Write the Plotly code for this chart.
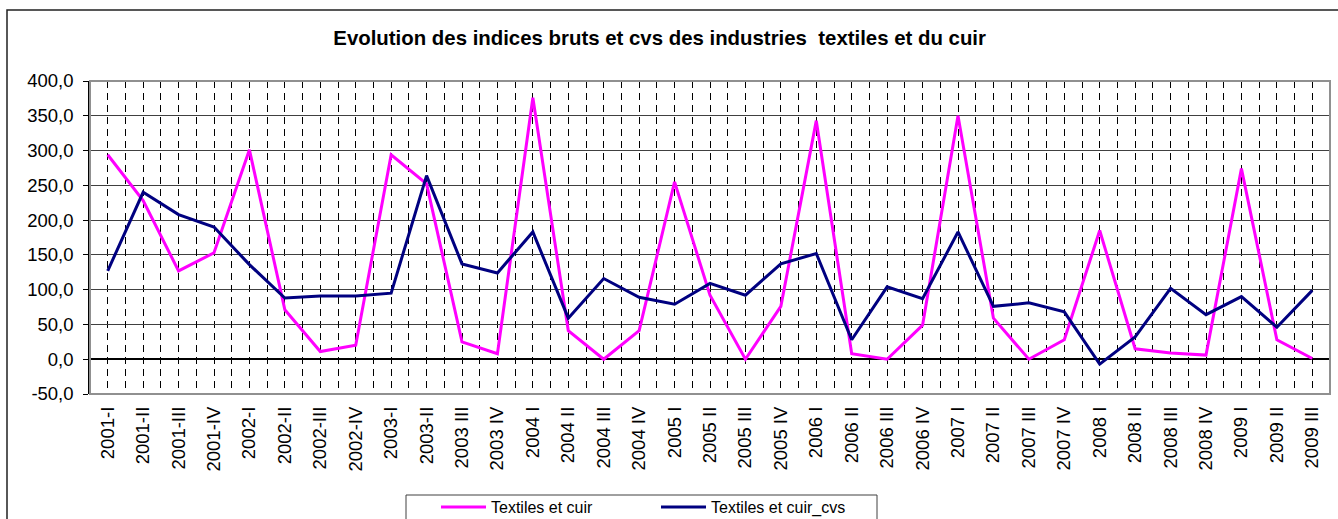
import plotly.graph_objects as go

# periodes (trimestres)
periodes = ["2001-I", "2001-II", "2001-III", "2001-IV", "2002-I", "2002-II", "2002-III", "2002-IV",
            "2003-I", "2003-II", "2003 III", "2003 IV", "2004 I", "2004 II", "2004 III", "2004 IV",
            "2005 I", "2005 II", "2005 III", "2005 IV", "2006 I", "2006 II", "2006 III", "2006 IV",
            "2007 I", "2007 II", "2007 III", "2007 IV", "2008 I", "2008 II", "2008 III", "2008 IV",
            "2009 I", "2009 II", "2009 III"]

# indices bruts
textiles_cuir = [294, 228, 127, 153, 301, 71, 11, 20,
                 294, 252, 25, 8, 376, 41, 0, 41,
                 255, 92, 0, 76, 343, 8, 0, 49,
                 350, 59, 0, 28, 185, 15, 9, 6,
                 274, 28, 1]

# indices cvs
textiles_cuir_cvs = [127, 240, 208, 190, 136, 88, 91, 91,
                     95, 264, 137, 124, 183, 59, 116, 89,
                     79, 109, 92, 137, 152, 28, 104, 87,
                     183, 76, 81, 68, -7, 32, 102, 64,
                     90, 46, 99]

# graduations de l'axe des ordonnées
y_ticks = [-50, 0, 50, 100, 150, 200, 250, 300, 350, 400]
y_labels = [f"{v:.1f}".replace(".", ",") for v in y_ticks]

FONT = "Arial, Liberation Sans, sans-serif"

fig = go.Figure()
fig.add_trace(go.Scatter(x=periodes, y=textiles_cuir, mode="lines", name="Textiles et cuir",
                         line=dict(color="#FF00FF", width=3)))
fig.add_trace(go.Scatter(x=periodes, y=textiles_cuir_cvs, mode="lines", name="Textiles et cuir_cvs",
                         xaxis="x2", line=dict(color="#000080", width=3)))

fig.update_layout(
    width=1338, height=519,
    margin=dict(l=90, r=8, t=81, b=125, autoexpand=False),
    paper_bgcolor="white", plot_bgcolor="white",
    font=dict(family=FONT, color="black"),
    title=dict(text="<b>Evolution des indices bruts et cvs des industries  textiles et du cuir</b>",
               font=dict(size=20.4, family=FONT, color="black"),
               xref="container", x=0.493, xanchor="center",
               yref="container", y=1 - 38 / 519, yanchor="middle"),
    xaxis=dict(type="category", categoryorder="array", categoryarray=periodes,
               range=[-0.5, 34.5], showgrid=True, gridcolor="black", gridwidth=1,
               griddash="7px,5px", ticks="", tickangle=-90, automargin=False,
               tickfont=dict(size=18.5, family=FONT), ticklabelstandoff=8,
               showline=False, zeroline=False),
    xaxis2=dict(type="category", categoryorder="array", categoryarray=periodes,
                overlaying="x", side="bottom", anchor="y", automargin=False,
                range=[-0.5, 34.5], tickson="boundaries", showgrid=True,
                gridcolor="black", gridwidth=1, griddash="7px,5px",
                showticklabels=False, ticks="", showline=False),
    yaxis=dict(range=[-50, 400], tickmode="array", tickvals=y_ticks, ticktext=y_labels,
               automargin=False,
               showgrid=True, gridcolor="#404040", gridwidth=1,
               zeroline=True, zerolinecolor="black", zerolinewidth=1.5,
               showline=True, linecolor="black", linewidth=1.5,
               ticks="outside", ticklen=5, tickcolor="black",
               tickfont=dict(size=18.5, family=FONT), ticklabelstandoff=6),
    legend=dict(orientation="h", xref="container", x=436 / 1338, xanchor="left",
                yref="container", y=1 - 490 / 519, yanchor="top", itemwidth=45,
                font=dict(size=16, family=FONT), entrywidth=160,
                bgcolor="rgba(0,0,0,0)", borderwidth=0),
    shapes=[
        # cadre du graphique
        dict(type="rect", xref="paper", yref="paper",
             x0=(7 - 90) / 1240, x1=1.05, y0=-0.5, y1=(394 - 10) / 313,
             line=dict(color="#202020", width=1.5), layer="below"),
        # zone de tracé
        dict(type="rect", xref="paper", yref="paper", x0=0, x1=1, y0=0, y1=1,
             line=dict(color="#909090", width=2)),
        # cadre de la légende
        dict(type="rect", xref="paper", yref="paper",
             x0=(406 - 90) / 1240, x1=(877 - 90) / 1240,
             y0=-0.5, y1=(394 - 495) / 313,
             line=dict(color="#404040", width=1), fillcolor="white", layer="below"),
    ],
)

fig.write_html("out.html", config={"displayModeBar": False},
               post_script="document.body.style.margin='0';")
